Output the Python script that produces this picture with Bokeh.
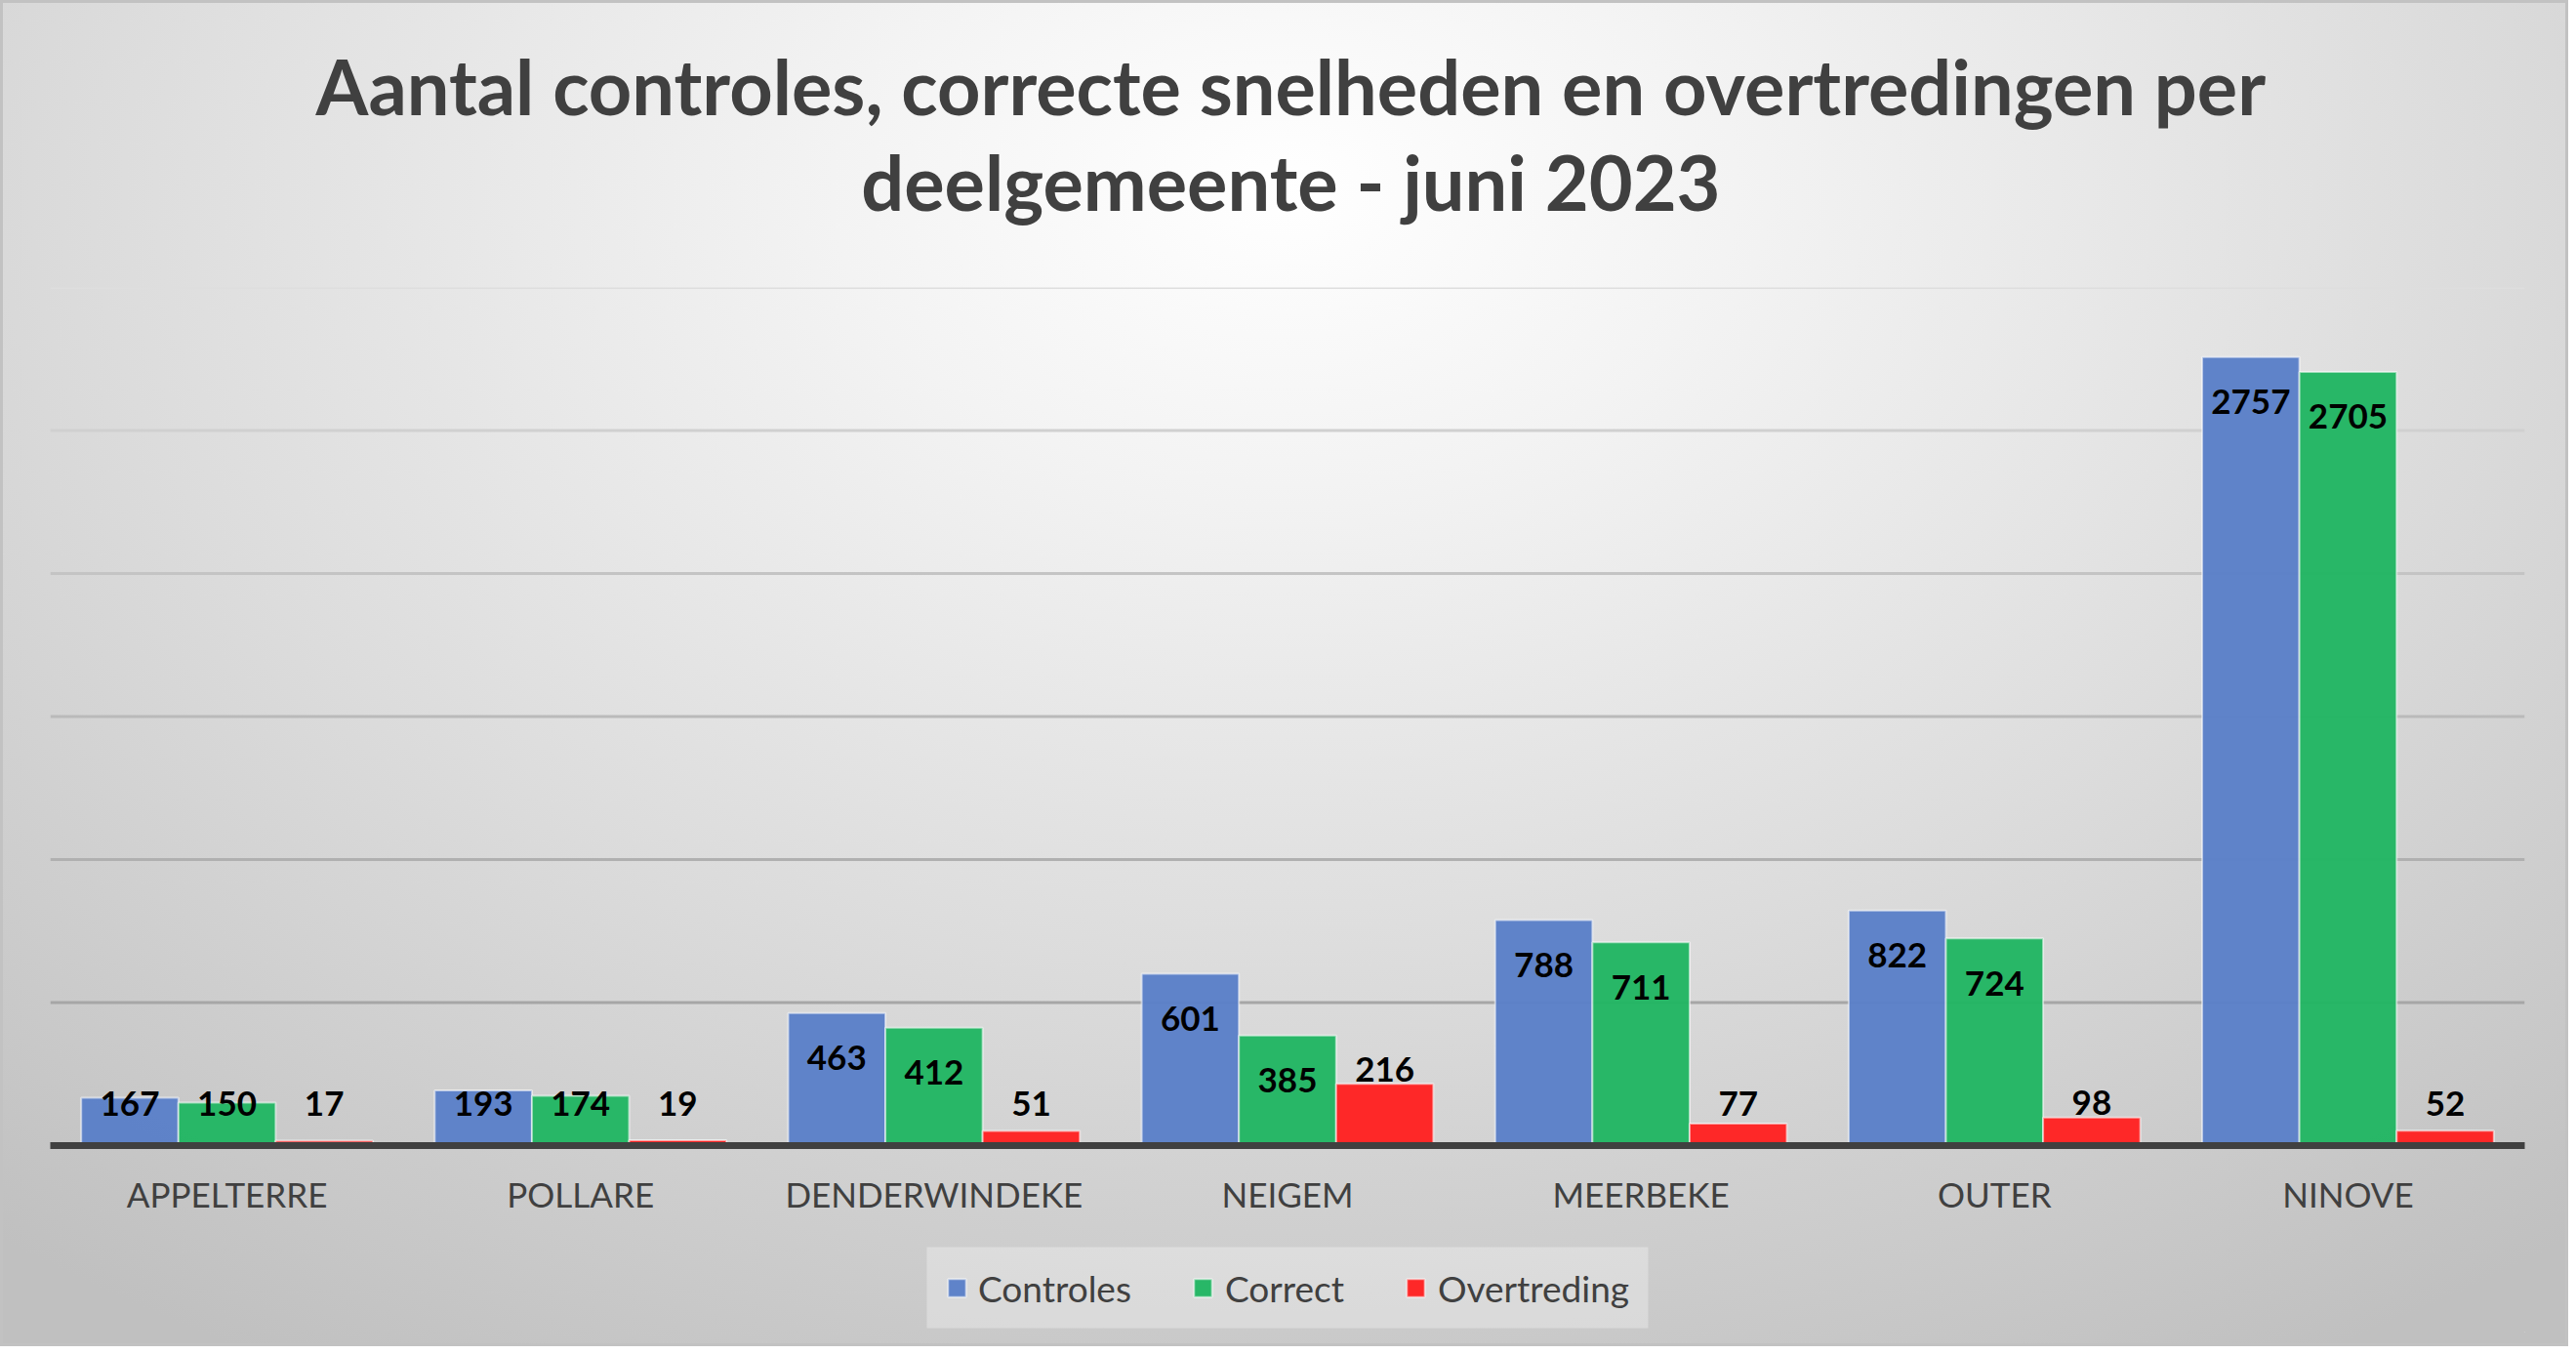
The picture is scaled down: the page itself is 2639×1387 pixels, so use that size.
from bokeh.plotting import figure
from bokeh.layouts import column
from bokeh.models import (ColumnDataSource, FactorRange, Legend, LegendItem, Span, Range1d, Spacer)
from bokeh.transform import dodge
from bokeh.core.properties import value
from bokeh.embed import file_html
from bokeh.resources import INLINE

# ---- data ----
categories = ["APPELTERRE", "POLLARE", "DENDERWINDEKE", "NEIGEM", "MEERBEKE", "OUTER", "NINOVE"]
controles = [167, 193, 463, 601, 788, 822, 2757]
correct = [150, 174, 412, 385, 711, 724, 2705]
overtreding = [17, 19, 51, 216, 77, 98, 52]
series_names = ["Controles", "Correct", "Overtreding"]
title_lines = ["Aantal controles, correcte snelheden en overtredingen per",
               "deelgemeente - juni 2023"]

# ---- styles ----
colors = ["#5B80C8", "#22B663", "#FF2222"]
FONT = "Lato"
TXT = "#404040"
FRAME_H = 879
Y_MAX = 3000
ppu = FRAME_H / Y_MAX
W = 2631
TITLE_H = 250


def bare(fig):
    fig.axis.visible = False
    fig.grid.visible = False
    fig.outline_line_color = None
    fig.background_fill_alpha = 0
    fig.border_fill_alpha = 0


# ---- title strip (pixel-unit frame, y measured from the top) ----
pt = figure(width=W, height=TITLE_H, x_range=Range1d(0, W), y_range=Range1d(TITLE_H, 0), min_border=0,
            title=None, output_backend="svg", toolbar_location=None, tools="")
bare(pt)
tsrc = ColumnDataSource(dict(x=[1319, 1319], y=[88, 186], t=title_lines))
pt.text(x="x", y="y", text="t", source=tsrc, text_font=value(FONT), text_font_style="bold",
        text_font_size="77.5px", text_color=TXT, text_align="center", text_baseline="alphabetic")

# ---- main chart ----
p = figure(x_range=FactorRange(*categories, range_padding=0), y_range=(0, Y_MAX),
           frame_width=2535, frame_height=FRAME_H, title=None,
           min_border_left=51, min_border_right=W - 51 - 2535, min_border_top=294 - TITLE_H,
           min_border_bottom=100, output_backend="svg", toolbar_location=None, tools="")
p.background_fill_alpha = 0
p.border_fill_alpha = 0
p.outline_line_color = None

grid_vals = [500, 1000, 1500, 2000, 2500, 3000]
grid_cols = ["#a6a6a6", "#b0b0b0", "#bababa", "#c4c4c4", "#d0d0d0", "#dedede"]
for gv, gc in zip(grid_vals, grid_cols):
    p.add_layout(Span(location=gv, dimension="width", line_color=gc, line_width=3, level="underlay"))
p.xgrid.grid_line_color = None
p.ygrid.grid_line_color = None

src = ColumnDataSource(dict(cat=categories, c0=controles, c1=correct, c2=overtreding))
offsets = [-0.275, 0.0, 0.275]
bar_style = dict(fill_alpha=0.97, line_color="white", line_alpha=0.55, line_width=2)
for i, (col, off) in enumerate(zip(["c0", "c1", "c2"], offsets)):
    p.vbar(x=dodge("cat", off, range=p.x_range), top=col, width=0.275, source=src,
           fill_color=colors[i], **bar_style)

# data labels (inside end for the first two series, outside end for the third)
min_c = 43 / ppu
inside = 46 / ppu
outside = 15 / ppu
for i, (vals, off) in enumerate(zip([controles, correct, overtreding], offsets)):
    if i < 2:
        ys = [max(v - inside, min_c) for v in vals]
    else:
        ys = [max(v + outside, min_c) for v in vals]
    lsrc = ColumnDataSource(dict(cat=categories, y=ys, t=[str(v) for v in vals]))
    p.text(x=dodge("cat", off, range=p.x_range), y="y", text="t", source=lsrc,
           text_font=value(FONT), text_font_style="bold", text_font_size="35px",
           text_color="black", text_align="center", text_baseline="middle")

p.yaxis.visible = False
ax = p.xaxis[0]
ax.axis_line_color = TXT
ax.axis_line_width = 7
ax.major_tick_line_color = None
ax.minor_tick_line_color = None
ax.major_label_text_font = FONT
ax.major_label_text_font_size = "35px"
ax.major_label_text_color = TXT
ax.major_label_standoff = 22

# ---- legend strip ----
pl = figure(width=W, height=92, x_range=(0, 1), y_range=(0, 1), min_border=0, title=None,
            output_backend="svg", toolbar_location=None, tools="")
bare(pl)
proxy = ColumnDataSource(dict(x=[5], top=[0]))  # off-range proxy used only for legend swatches
leg_r = [pl.vbar(x="x", top="top", width=0.1, source=proxy, fill_color=c, **bar_style) for c in colors]
legend = Legend(items=[LegendItem(label=n, renderers=[r]) for n, r in zip(series_names, leg_r)],
                orientation="horizontal", location="center", margin=0,
                label_text_font=FONT, label_text_font_size="37px", label_text_color=TXT,
                glyph_width=23, glyph_height=23, label_standoff=11, spacing=62, padding=19,
                background_fill_color="white", background_fill_alpha=0.3, border_line_alpha=0)
pl.add_layout(legend, "center")

layout = column(pt, p, pl, Spacer(width=W, height=14), spacing=0, styles={
    "background": "radial-gradient(80% 100% at 50% 14%, #ffffff 0%, #f3f3f3 22%, #dcdcdc 58%, #c0c0c0 100%)",
    "box-shadow": "inset 0 0 0 3px #c2c2c2"})

open("out.html", "w").write(file_html(layout, INLINE))
